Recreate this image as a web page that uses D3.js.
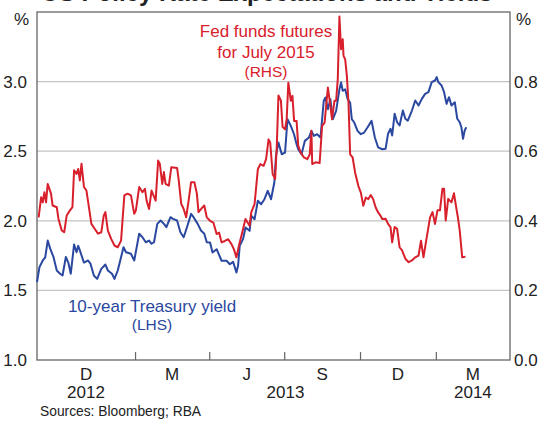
<!DOCTYPE html>
<html>
<head>
<meta charset="utf-8">
<script src="https://cdn.jsdelivr.net/npm/d3@7"></script>
<style>
  html, body { margin: 0; padding: 0; background: #fff; }
  svg { display: block; font-family: "Liberation Sans", Arial, sans-serif; }
</style>
</head>
<body>
<div id="chart"></div>
<script>
// chart constants - layout lives here, data lives below
var width = 542,
    height = 424,
    margin = {top: 12, right: 32, bottom: 64, left: 37};

var red = "#d8202c",
    blue = "#2a48a0",
    grid = "#c4c4c4",
    frame = "#666";

// 10-year Treasury yield (LHS, per cent)
var blueDates = [
  "2012-09-04","2012-09-07","2012-09-11","2012-09-14","2012-09-17","2012-09-20","2012-09-24","2012-09-28",
  "2012-10-02","2012-10-05","2012-10-09","2012-10-12","2012-10-15","2012-10-19","2012-10-22","2012-10-24",
  "2012-10-26","2012-10-31","2012-11-05","2012-11-08","2012-11-12","2012-11-16","2012-11-21","2012-11-26",
  "2012-11-29","2012-12-04","2012-12-07","2012-12-11","2012-12-14","2012-12-18","2012-12-21","2012-12-27",
  "2012-12-31","2013-01-06","2013-01-10","2013-01-14","2013-01-18","2013-01-21","2013-01-24","2013-01-28",
  "2013-02-01","2013-02-05","2013-02-08","2013-02-13","2013-02-16","2013-02-21","2013-02-25","2013-03-01",
  "2013-03-05","2013-03-10","2013-03-13","2013-03-18","2013-03-22","2013-03-26","2013-03-29","2013-04-02",
  "2013-04-05","2013-04-10","2013-04-16","2013-04-22","2013-04-26","2013-04-30","2013-05-04","2013-05-06",
  "2013-05-08","2013-05-12","2013-05-15","2013-05-20","2013-05-22","2013-05-26","2013-05-30","2013-06-03",
  "2013-06-07","2013-06-11","2013-06-15","2013-06-19","2013-06-21","2013-06-24","2013-06-28","2013-07-02",
  "2013-07-05","2013-07-09","2013-07-13","2013-07-16","2013-07-18","2013-07-22","2013-07-26","2013-07-31",
  "2013-08-03","2013-08-06","2013-08-10","2013-08-14","2013-08-18","2013-08-20","2013-08-23","2013-08-26",
  "2013-08-29","2013-09-02","2013-09-06","2013-09-08","2013-09-10","2013-09-13","2013-09-16","2013-09-19",
  "2013-09-21","2013-09-24","2013-09-28","2013-10-02","2013-10-06","2013-10-10","2013-10-15","2013-10-19",
  "2013-10-23","2013-10-28","2013-11-01","2013-11-04","2013-11-07","2013-11-09","2013-11-12","2013-11-15",
  "2013-11-18","2013-11-22","2013-11-25","2013-11-28","2013-12-03","2013-12-07","2013-12-11","2013-12-15",
  "2013-12-19","2013-12-23","2013-12-27","2013-12-31","2014-01-02","2014-01-04","2014-01-08","2014-01-11",
  "2014-01-14","2014-01-17","2014-01-20","2014-01-24","2014-01-27","2014-01-30","2014-02-01","2014-02-03",
  "2014-02-05","2014-02-07"
];
var blueValues = [
  1.56,1.667,1.715,1.738,1.858,1.80,1.74,1.643,
  1.62,1.607,1.74,1.70,1.62,1.83,1.774,1.82,
  1.787,1.70,1.715,1.69,1.607,1.583,1.655,1.686,
  1.643,1.62,1.583,1.643,1.715,1.81,1.774,1.763,
  1.715,1.907,1.882,1.846,1.858,1.835,1.846,1.978,
  2.002,1.978,1.954,2.026,2.014,2.002,1.918,1.882,
  1.954,2.05,2.026,1.978,1.93,1.907,1.846,1.844,
  1.772,1.796,1.713,1.713,1.688,1.705,1.629,1.677,
  1.82,1.868,1.952,1.928,2.036,2.011,2.144,2.119,
  2.155,2.215,2.155,2.275,2.467,2.563,2.478,2.49,
  2.73,2.682,2.62,2.55,2.514,2.478,2.574,2.598,
  2.646,2.61,2.622,2.598,2.862,2.886,2.802,2.874,
  2.73,2.79,2.945,2.994,2.934,2.945,2.874,2.85,
  2.73,2.706,2.646,2.622,2.634,2.67,2.718,2.598,
  2.527,2.514,2.517,2.625,2.661,2.613,2.769,2.708,
  2.685,2.792,2.733,2.72,2.792,2.864,2.828,2.876,
  2.912,2.924,2.996,3.008,3.032,2.996,2.972,2.924,
  2.84,2.888,2.828,2.852,2.733,2.708,2.672,2.589,
  2.649,2.672
];

// Fed funds futures for July 2015 (RHS, per cent)
var redDates = [
  "2012-09-06","2012-09-09","2012-09-11","2012-09-13","2012-09-15","2012-09-17","2012-09-21","2012-09-23",
  "2012-09-28","2012-09-30","2012-10-04","2012-10-07","2012-10-10","2012-10-14","2012-10-17","2012-10-19",
  "2012-10-22","2012-10-24","2012-10-26","2012-10-28","2012-10-31","2012-11-03","2012-11-06","2012-11-09",
  "2012-11-13","2012-11-17","2012-11-21","2012-11-24","2012-11-26","2012-11-29","2012-12-03","2012-12-07",
  "2012-12-11","2012-12-15","2012-12-19","2012-12-23","2012-12-27","2012-12-31","2013-01-02","2013-01-06",
  "2013-01-10","2013-01-13","2013-01-15","2013-01-18","2013-01-21","2013-01-26","2013-01-29","2013-01-31",
  "2013-02-03","2013-02-05","2013-02-07","2013-02-11","2013-02-14","2013-02-21","2013-02-23","2013-02-26",
  "2013-03-01","2013-03-04","2013-03-07","2013-03-10","2013-03-14","2013-03-17","2013-03-19","2013-03-24",
  "2013-03-26","2013-03-29","2013-04-02","2013-04-06","2013-04-10","2013-04-13","2013-04-16","2013-04-20",
  "2013-04-24","2013-04-28","2013-05-01","2013-05-04","2013-05-07","2013-05-09","2013-05-12","2013-05-15",
  "2013-05-20","2013-05-22","2013-05-26","2013-05-30","2013-06-02","2013-06-06","2013-06-09","2013-06-12",
  "2013-06-14","2013-06-17","2013-06-20","2013-06-22","2013-06-24","2013-06-27","2013-06-29","2013-07-02",
  "2013-07-04","2013-07-06","2013-07-09","2013-07-11","2013-07-13","2013-07-16","2013-07-18","2013-07-21",
  "2013-07-25","2013-07-29","2013-08-01","2013-08-03","2013-08-04","2013-08-08","2013-08-13","2013-08-16",
  "2013-08-19","2013-08-23","2013-08-25","2013-08-28","2013-08-31","2013-09-02","2013-09-04","2013-09-06",
  "2013-09-08","2013-09-10","2013-09-11","2013-09-13","2013-09-15","2013-09-17","2013-09-19","2013-09-22",
  "2013-09-25","2013-09-29","2013-10-02","2013-10-05","2013-10-08","2013-10-11","2013-10-14","2013-10-17",
  "2013-10-20","2013-10-23","2013-10-26","2013-10-28","2013-11-01","2013-11-04","2013-11-07","2013-11-09",
  "2013-11-12","2013-11-15","2013-11-18","2013-11-21","2013-11-25","2013-11-29","2013-12-03","2013-12-07",
  "2013-12-11","2013-12-14","2013-12-17","2013-12-21","2013-12-25","2013-12-28","2013-12-31","2014-01-03",
  "2014-01-06","2014-01-09","2014-01-11","2014-01-13","2014-01-16","2014-01-20","2014-01-23","2014-01-25",
  "2014-01-28","2014-01-30","2014-02-02","2014-02-06"
];
var redValues = [
  0.41,0.468,0.453,0.482,0.453,0.506,0.478,0.444,
  0.439,0.406,0.372,0.367,0.415,0.43,0.439,0.545,
  0.535,0.549,0.516,0.564,0.497,0.487,0.439,0.391,
  0.377,0.363,0.367,0.415,0.425,0.372,0.348,0.329,
  0.324,0.343,0.473,0.478,0.473,0.42,0.43,0.497,
  0.482,0.492,0.458,0.434,0.487,0.458,0.573,0.564,
  0.506,0.54,0.506,0.501,0.554,0.552,0.516,0.449,
  0.434,0.41,0.458,0.511,0.511,0.478,0.425,0.439,
  0.444,0.41,0.40,0.395,0.362,0.366,0.338,0.342,
  0.347,0.333,0.318,0.295,0.328,0.347,0.376,0.405,
  0.386,0.424,0.448,0.548,0.563,0.558,0.577,0.634,
  0.625,0.534,0.52,0.616,0.76,0.745,0.67,0.663,
  0.692,0.797,0.745,0.759,0.687,0.687,0.616,0.596,
  0.582,0.577,0.591,0.659,0.563,0.568,0.566,0.673,
  0.682,0.783,0.749,0.692,0.745,0.745,0.807,0.987,
  0.893,0.922,0.874,0.864,0.817,0.74,0.591,0.582,
  0.539,0.50,0.481,0.443,0.467,0.462,0.474,0.462,
  0.438,0.424,0.414,0.405,0.406,0.391,0.382,0.338,
  0.382,0.377,0.324,0.315,0.291,0.281,0.286,0.295,
  0.30,0.343,0.295,0.353,0.41,0.425,0.391,0.43,
  0.43,0.492,0.492,0.401,0.463,0.453,0.479,0.449,
  0.406,0.372,0.295,0.297
];

// axis labels
var leftTicks = [1.0, 1.5, 2.0, 2.5, 3.0];
var rightTicks = [0.0, 0.2, 0.4, 0.6, 0.8];
var quarterTicks = ["2013-01-01","2013-04-01","2013-07-01","2013-10-01","2014-01-01"];
var quarterLabels = ["D","M","J","S","D","M"];
var yearLabels = ["2012","2013","2014"];
var xStart = "2012-09-04", xEnd = "2014-04-01";

var parse = d3.timeParse("%Y-%m-%d");

var x = d3.scaleTime()
    .domain([parse(xStart), parse(xEnd)])
    .range([margin.left, width - margin.right]);
var yL = d3.scaleLinear().domain([1.0, 3.5]).range([height - margin.bottom, margin.top]);
var yR = d3.scaleLinear().domain([0.0, 1.0]).range([height - margin.bottom, margin.top]);

var svg = d3.select("#chart").append("svg")
    .attr("width", width)
    .attr("height", height);

// title, mostly cut off by the top of the picture
svg.append("text")
    .attr("x", 267).attr("y", 0.5)
    .attr("text-anchor", "middle")
    .attr("font-size", 24).attr("font-weight", "bold")
    .attr("fill", "#222")
    .text("US Policy Rate Expectations and Yields");

// horizontal gridlines
svg.append("g").selectAll("line")
    .data(leftTicks.slice(1))
    .enter().append("line")
    .attr("x1", margin.left).attr("x2", width - margin.right)
    .attr("y1", function(d) { return yL(d); })
    .attr("y2", function(d) { return yL(d); })
    .attr("stroke", grid).attr("stroke-width", 1.2);

// left / right axes (labels only, frame drawn below)
var axL = svg.append("g")
    .attr("transform", "translate(" + margin.left + ",0)")
    .call(d3.axisLeft(yL).tickValues(leftTicks).tickSize(0).tickPadding(10).tickFormat(d3.format(".1f")));
var axR = svg.append("g")
    .attr("transform", "translate(" + (width - margin.right) + ",0)")
    .call(d3.axisRight(yR).tickValues(rightTicks).tickSize(0).tickPadding(4).tickFormat(d3.format(".1f")));
[axL, axR].forEach(function(ax) {
    ax.select(".domain").remove();
    ax.selectAll("text")
        .attr("font-family", "'Liberation Sans', Arial, sans-serif")
        .attr("font-size", 17).attr("fill", "#222");
});

// quarter ticks on the bottom, pointing inwards
var axB = svg.append("g")
    .attr("transform", "translate(0," + (height - margin.bottom) + ")")
    .call(d3.axisBottom(x).tickValues(quarterTicks.map(parse)).tickSize(-8).tickFormat(""));
axB.select(".domain").remove();
axB.selectAll("line").attr("stroke", frame).attr("stroke-width", 1.2);

// month letters centred in each visible quarter
var bounds = [parse(xStart)].concat(quarterTicks.map(parse), [parse(xEnd)]);
svg.append("g").selectAll("text")
    .data(quarterLabels)
    .enter().append("text")
    .attr("x", function(d, i) { return (x(bounds[i]) + x(bounds[i + 1])) / 2; })
    .attr("y", 380)
    .attr("text-anchor", "middle")
    .attr("font-size", 17).attr("fill", "#222")
    .text(function(d) { return d; });

// years centred on their visible span
var yearBounds = [parse(xStart), parse("2013-01-01"), parse("2014-01-01"), parse(xEnd)];
svg.append("g").selectAll("text")
    .data(yearLabels)
    .enter().append("text")
    .attr("x", function(d, i) { return (x(yearBounds[i]) + x(yearBounds[i + 1])) / 2; })
    .attr("y", 398)
    .attr("text-anchor", "middle")
    .attr("font-size", 17).attr("fill", "#222")
    .text(function(d) { return d; });

// frame
svg.append("rect")
    .attr("x", margin.left).attr("y", margin.top)
    .attr("width", width - margin.left - margin.right)
    .attr("height", height - margin.top - margin.bottom)
    .attr("fill", "none").attr("stroke", frame).attr("stroke-width", 1.3);

// % units
svg.append("text").attr("x", 29).attr("y", 25).attr("text-anchor", "end")
    .attr("font-size", 17).attr("fill", "#222").text("%");
svg.append("text").attr("x", 516).attr("y", 25)
    .attr("font-size", 17).attr("fill", "#222").text("%");

// the two series
var blueData = blueDates.map(function(d, i) { return {date: parse(d), value: blueValues[i]}; });
var redData = redDates.map(function(d, i) { return {date: parse(d), value: redValues[i]}; });

svg.append("path")
    .datum(blueData)
    .attr("fill", "none").attr("stroke", blue).attr("stroke-width", 2)
    .attr("stroke-linejoin", "round")
    .attr("d", d3.line().x(function(d) { return x(d.date); }).y(function(d) { return yL(d.value); }));

svg.append("path")
    .datum(redData)
    .attr("fill", "none").attr("stroke", red).attr("stroke-width", 2)
    .attr("stroke-linejoin", "round")
    .attr("d", d3.line().x(function(d) { return x(d.date); }).y(function(d) { return yR(d.value); }));

// series labels
var redLabel = svg.append("text").attr("text-anchor", "middle").attr("fill", red);
redLabel.append("tspan").attr("x", 266).attr("y", 37).attr("font-size", 17).text("Fed funds futures");
redLabel.append("tspan").attr("x", 266).attr("y", 58).attr("font-size", 17).text("for July 2015");
redLabel.append("tspan").attr("x", 266).attr("y", 77).attr("font-size", 15.5).text("(RHS)");

var blueLabel = svg.append("text").attr("text-anchor", "middle").attr("fill", blue);
blueLabel.append("tspan").attr("x", 152).attr("y", 312).attr("font-size", 17).text("10-year Treasury yield");
blueLabel.append("tspan").attr("x", 152).attr("y", 330).attr("font-size", 15.5).text("(LHS)");

// sources
svg.append("text").attr("x", 40).attr("y", 416)
    .attr("font-size", 13.8).attr("fill", "#222")
    .text("Sources: Bloomberg; RBA");
</script>
</body>
</html>
